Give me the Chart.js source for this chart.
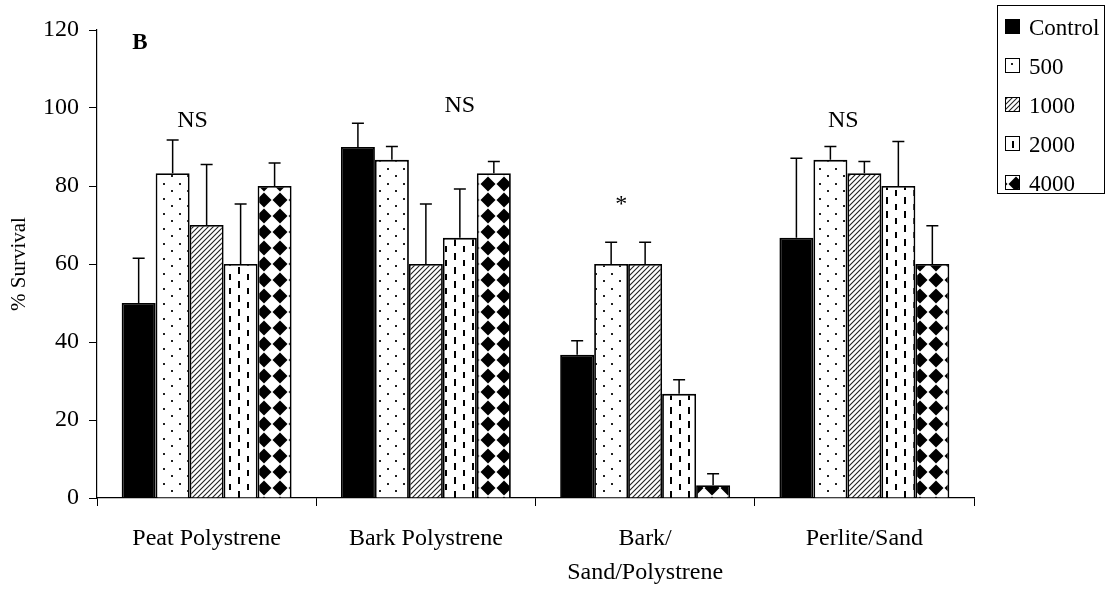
<!DOCTYPE html>
<html>
<head>
<meta charset="utf-8">
<script src="https://cdn.jsdelivr.net/npm/chart.js@4"></script>
<style>
  body { margin: 0; background: #fff; }
  #wrap { width: 1109px; height: 591px; }
</style>
</head>
<body>
<div id="wrap"><canvas id="survivalChart" width="1109" height="591"></canvas></div>
<script>
// substrate categories (multi-line labels)
const categories = [['Peat Polystrene'], ['Bark Polystrene'], ['Bark/', 'Sand/Polystrene'], ['Perlite/Sand']];
const doses = ['Control', '500', '1000', '2000', '4000'];

// % survival per dose
const survControl = [50, 90, 36.7, 66.7];
const surv500 = [83.3, 86.7, 60, 86.7];
const surv1000 = [70, 60, 60, 83.3];
const surv2000 = [60, 66.7, 26.7, 80];
const surv4000 = [80, 83.3, 3.3, 60];

// upper error (SE) per dose
const errControl = [11.5, 6.1, 3.6, 20.4];
const err500 = [8.5, 3.4, 5.6, 3.4];
const err1000 = [15.5, 15.4, 5.6, 3.0];
const err2000 = [15.4, 12.5, 3.6, 11.4];
const err4000 = [5.9, 3.0, 2.9, 9.8];

// significance marks above each group
const noteText = ['NS', 'NS', '*', 'NS'];
const noteValue = [95.2, 99.1, 73.6, 95.1];

const yTicks = [0, 20, 40, 60, 80, 100, 120];
const panelLabel = 'B';

const serif = '"Liberation Serif", "Times New Roman", serif';
Chart.defaults.font.family = serif;
Chart.defaults.color = '#000';

function makeTile(w, h, draw) {
    const c = document.createElement('canvas');
    c.width = w; c.height = h;
    const g = c.getContext('2d');
    g.fillStyle = '#fff';
    g.fillRect(0, 0, w, h);
    draw(g, w, h);
    return c;
}

const ctx = document.getElementById('survivalChart').getContext('2d');

const tiles = [
    null,
    makeTile(16, 15, g => {
        g.fillStyle = '#222';
        g.fillRect(3, 3, 2, 2);
        g.fillRect(11, 10, 2, 2);
    }),
    makeTile(5, 5, g => {
        g.strokeStyle = '#222';
        g.lineWidth = 1.1;
        g.beginPath();
        g.moveTo(-1, 6); g.lineTo(6, -1);
        g.moveTo(-1, 1); g.lineTo(1, -1);
        g.moveTo(4, 6); g.lineTo(6, 4);
        g.stroke();
    }),
    makeTile(18, 14, g => {
        g.fillStyle = '#000';
        g.fillRect(4, 1, 2, 7);
        g.fillRect(13, 8, 2, 7);
    }),
    makeTile(16, 16, g => {
        g.fillStyle = '#000';
        g.beginPath();
        g.moveTo(8, 0.5); g.lineTo(15.5, 8); g.lineTo(8, 15.5); g.lineTo(0.5, 8);
        g.closePath();
        g.fill();
    })
];
const fills = tiles.map(t => t ? ctx.createPattern(t, 'repeat') : '#000');

const seriesValues = [survControl, surv500, surv1000, surv2000, surv4000];
const seriesErrors = [errControl, err500, err1000, err2000, err4000];

const extras = {
    id: 'extras',
    afterDatasetsDraw(chart) {
        const c = chart.ctx;
        const y = chart.scales.y;
        const x = chart.scales.x;
        const area = chart.chartArea;
        c.save();
        // error bars
        c.strokeStyle = '#000';
        c.lineWidth = 1.5;
        chart.data.datasets.forEach((ds, di) => {
            const meta = chart.getDatasetMeta(di);
            meta.data.forEach((bar, i) => {
                const top = y.getPixelForValue(ds.data[i] + seriesErrors[di][i]);
                c.beginPath();
                c.moveTo(bar.x, bar.y);
                c.lineTo(bar.x, top);
                c.moveTo(bar.x - 6, top);
                c.lineTo(bar.x + 6, top);
                c.stroke();
            });
        });
        // NS / * notes
        const shift = [-14, 34, -24, -21];
        c.fillStyle = '#000';
        c.textAlign = 'center';
        c.textBaseline = 'alphabetic';
        c.font = '24px ' + serif;
        noteText.forEach((t, i) => {
            c.fillText(t, x.getPixelForValue(i) + shift[i], y.getPixelForValue(noteValue[i]));
        });
        // panel letter
        c.font = 'bold 23px ' + serif;
        c.fillText(panelLabel, area.left + 43, area.top + 19);

        // legend
        const lx = area.right + 23, ly = 5;
        c.lineWidth = 1;
        c.strokeRect(lx + 0.5, ly + 0.5, 107, 188);
        c.font = '23px ' + serif;
        c.textAlign = 'left';
        doses.forEach((d, i) => {
            const cy = ly + 21 + 39 * i;
            c.fillStyle = fills[i];
            c.fillRect(lx + 8, cy - 7, 15, 15);
            c.strokeRect(lx + 8.5, cy - 6.5, 14, 14);
            c.fillStyle = '#000';
            c.fillText(d, lx + 32, cy + 9);
        });
        c.restore();
    }
};

new Chart(ctx, {
    type: 'bar',
    data: {
        labels: categories,
        datasets: doses.map((d, i) => ({
            label: d,
            data: seriesValues[i],
            backgroundColor: fills[i],
            borderColor: '#000',
            borderWidth: 1.8,
            categoryPercentage: 0.775,
            barPercentage: 1.0
        }))
    },
    options: {
        responsive: false,
        animation: false,
        devicePixelRatio: 1,
        layout: { padding: { left: 0, top: 30, right: 135, bottom: 0 } },
        plugins: {
            legend: { display: false },
            tooltip: { enabled: false }
        },
        scales: {
            x: {
                grid: { drawOnChartArea: false, tickLength: 8, color: '#000', offset: true },
                border: { color: '#000', width: 1.2 },
                ticks: { font: { size: 24, lineHeight: 1.4 }, padding: 16, maxRotation: 0, autoSkip: false },
                afterFit: s => { s.height = 93; }
            },
            y: {
                min: 0,
                max: 120,
                afterBuildTicks: s => { s.ticks = yTicks.map(v => ({ value: v })); },
                grid: { drawOnChartArea: false, tickLength: 8, color: '#000' },
                border: { color: '#000', width: 1.2 },
                ticks: { font: { size: 24 }, padding: 10 },
                title: { display: true, text: '% Survival', font: { size: 21 }, padding: { top: 7, bottom: 0 } },
                afterFit: s => { s.width = 97; }
            }
        }
    },
    plugins: [extras]
});
</script>
</body>
</html>
